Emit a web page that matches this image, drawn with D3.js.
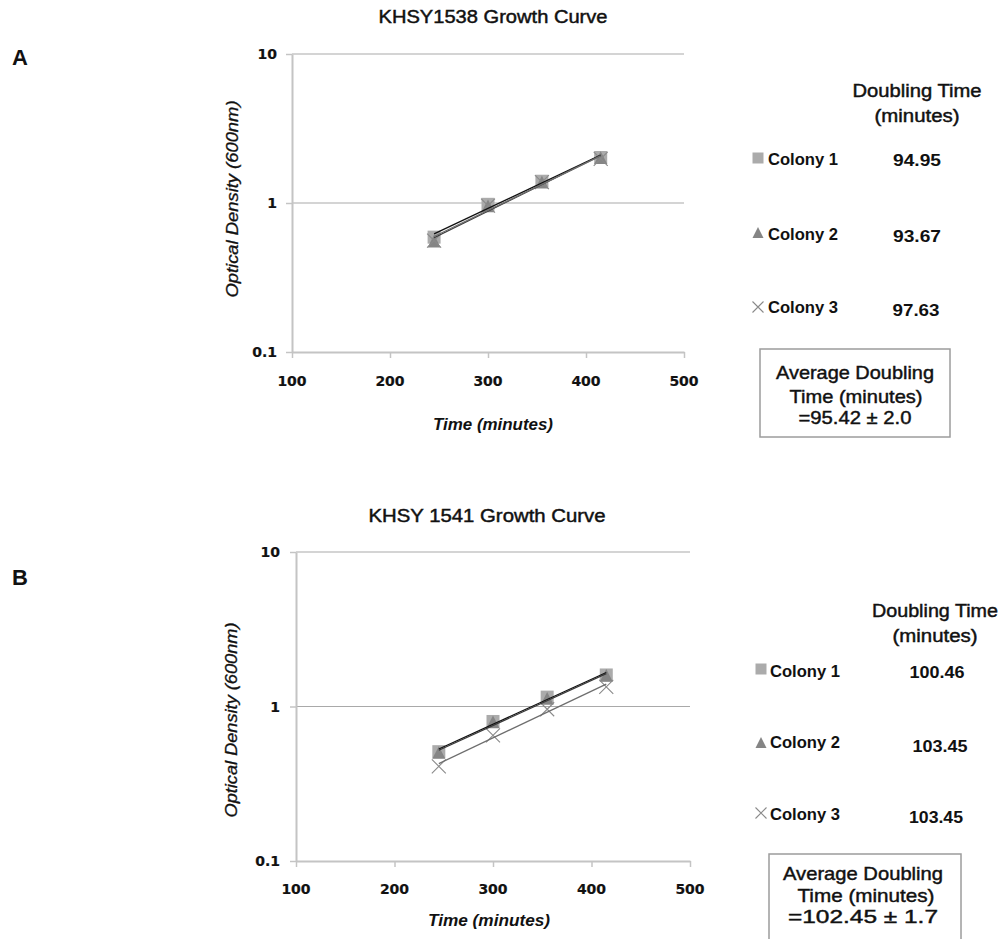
<!DOCTYPE html>
<html>
<head>
<meta charset="utf-8">
<script src="https://cdn.jsdelivr.net/npm/d3@7"></script>
<style>
  html, body { margin: 0; padding: 0; background: #fff; }
  svg { display: block; }
</style>
</head>
<body>
<svg id="chart" width="1005" height="939"></svg>
<script>
// ---------------- DATA ----------------
const timePoints = [245, 300, 355, 415];
const colonyNames = ["Colony 1", "Colony 2", "Colony 3"];

// Panel A (KHSY1538)
const titleA = "KHSY1538 Growth Curve";
const odA_colony1 = [0.59, 0.98, 1.40, 2.02];
const odA_colony2 = [0.55, 0.95, 1.37, 2.00];
const odA_colony3 = [0.56, 0.96, 1.38, 1.98];
const doublingA = ["94.95", "93.67", "97.63"];
const averageA = "=95.42 \u00B1 2.0";

// Panel B (KHSY 1541)
const titleB = "KHSY 1541 Growth Curve";
const odB_colony1 = [0.51, 0.80, 1.15, 1.60];
const odB_colony2 = [0.50, 0.79, 1.12, 1.58];
const odB_colony3 = [0.41, 0.65, 0.96, 1.34];
const doublingB = ["100.46", "103.45", "103.45"];
const averageB = "=102.45 \u00B1 1.7";

const xTicks = [100, 200, 300, 400, 500];
const yTicks = [0.1, 1, 10];
const yTickLabels = ["0.1", "1", "10"];
const xDomain = [100, 500];
const yDomain = [0.1, 10];
const xTitle = "Time (minutes)";
const yTitle = "Optical Density (600nm)";
const tableHeader = ["Doubling Time", "(minutes)"];
const boxLines = ["Average Doubling", "Time (minutes)"];

// ---------------- LAYOUT ----------------
const panels = [
  {
    letter: "A", letterX: 12, letterY: 65,
    title: titleA, titleX: 493, titleY: 23, titleLen: 229,
    plot: { left: 292, right: 684, top: 54, bottom: 352 },
    xLabelY: 386, xTitleY: 430, xTitleX: 493, xTitleLen: 120,
    yLabelX: 277, yTitleX: 238, yTitleY: 199, yTitleLen: 197,
    series: [odA_colony1, odA_colony2, odA_colony3],
    doubling: doublingA, average: averageA,
    headX: 917, headY: [97, 122], headLen: [129, 85],
    legX: 758, legTextX: 768, legY: [158, 233, 307], legTextY: [165, 240, 313],
    valX: [917, 917, 916], valY: [166, 242, 316], valLen: [48, 48, 47],
    box: { x: 760, y: 349, w: 190, h: 88 },
    boxX: [855, 856, 855], boxY: [379, 403, 424], boxLen: [158, 133, 113]
  },
  {
    letter: "B", letterX: 12, letterY: 585,
    title: titleB, titleX: 487, titleY: 522, titleLen: 237,
    plot: { left: 296, right: 690, top: 552, bottom: 861 },
    xLabelY: 894, xTitleY: 926, xTitleX: 489, xTitleLen: 122,
    yLabelX: 280, yTitleX: 237, yTitleY: 720, yTitleLen: 195,
    series: [odB_colony1, odB_colony2, odB_colony3],
    doubling: doublingB, average: averageB,
    headX: 935, headY: [617, 642], headLen: [126, 85],
    legX: 761, legTextX: 770, legY: [669, 743, 813], legTextY: [677, 748, 820],
    valX: [937, 940, 936], valY: [678, 752, 823], valLen: [55, 55, 54],
    box: { x: 769, y: 854, w: 192, h: 110 },
    boxX: [863, 866, 863], boxY: [880, 902, 923], boxLen: [160, 137, 150]
  }
];

const SANS = "'Liberation Sans', Arial, Helvetica, sans-serif";
const VERD = "'DejaVu Sans', Verdana, sans-serif";
const markerFill = ["#ababab", "#858585", "none"];
const trendColor = ["#111111", "#3a3a3a", "#6e6e6e"];

const svg = d3.select("#chart");

function txt(g, s, x, y, opt) {
  const fill = opt.fill || "#111";
  const t = g.append("text")
    .attr("x", x).attr("y", y)
    .attr("font-family", opt.family || SANS)
    .attr("font-size", opt.size || 16)
    .attr("font-weight", opt.weight || "normal")
    .attr("font-style", opt.style || "normal")
    .attr("text-anchor", opt.anchor || "start")
    .attr("fill", fill)
    .text(s);
  if (opt.heavy) t.attr("stroke", fill).attr("stroke-width", opt.heavy);
  if (opt.len) t.attr("textLength", opt.len).attr("lengthAdjust", "spacingAndGlyphs");
  if (opt.transform) t.attr("transform", opt.transform);
  return t;
}

function marker(g, type, cx, cy, s) {
  if (type === 0) {
    g.append("rect").attr("x", cx - s / 2).attr("y", cy - s / 2)
      .attr("width", s).attr("height", s).attr("fill", markerFill[0]);
  } else if (type === 1) {
    const h = s * 0.9;
    g.append("path")
      .attr("d", `M${cx},${cy - h / 2 - 1} L${cx + s / 2},${cy + h / 2} L${cx - s / 2},${cy + h / 2} Z`)
      .attr("fill", markerFill[1]);
  } else {
    const r = s / 2;
    g.append("path")
      .attr("d", `M${cx - r},${cy - r} L${cx + r},${cy + r} M${cx - r},${cy + r} L${cx + r},${cy - r}`)
      .attr("stroke", "#8a8a8a").attr("stroke-width", 1.1).attr("fill", "none");
  }
}

function expFit(xs, ys) {
  const n = xs.length;
  const ly = ys.map(Math.log);
  const mx = d3.mean(xs), my = d3.mean(ly);
  let num = 0, den = 0;
  for (let i = 0; i < n; i++) { num += (xs[i] - mx) * (ly[i] - my); den += (xs[i] - mx) ** 2; }
  const b = num / den, a = my - b * mx;
  return x => Math.exp(a + b * x);
}

panels.forEach(p => {
  const g = svg.append("g");
  const x = d3.scaleLinear().domain(xDomain).range([p.plot.left, p.plot.right]);
  const y = d3.scaleLog().domain(yDomain).range([p.plot.bottom, p.plot.top]);

  // letter
  txt(g, p.letter, p.letterX, p.letterY, { size: 22, weight: "bold", family: SANS });
  // title
  txt(g, p.title, p.titleX, p.titleY, { size: 18, anchor: "middle", len: p.titleLen, heavy: 0.45 });

  // gridlines (10 and 1)
  g.selectAll(".grid").data(yTicks.filter(v => v > yDomain[0])).enter()
    .append("line")
    .attr("x1", p.plot.left).attr("x2", p.plot.right)
    .attr("y1", d => y(d)).attr("y2", d => y(d))
    .attr("stroke", "#a9a9a9").attr("stroke-width", 1.2);

  // x axis
  const xAxis = g.append("g").attr("transform", `translate(0,${p.plot.bottom})`)
    .call(d3.axisBottom(x).tickValues(xTicks).tickSize(6).tickSizeOuter(0).tickFormat(""));
  xAxis.select(".domain").attr("stroke", "#c4c4c4").attr("stroke-width", 2);
  xAxis.selectAll(".tick line").attr("stroke", "#c4c4c4").attr("stroke-width", 1.5);
  // y axis
  const yAxis = g.append("g").attr("transform", `translate(${p.plot.left},0)`)
    .call(d3.axisLeft(y).tickValues(yTicks).tickSize(6).tickSizeOuter(0).tickFormat(""));
  yAxis.select(".domain").attr("stroke", "#c4c4c4").attr("stroke-width", 2);
  yAxis.selectAll(".tick line").attr("stroke", "#c4c4c4").attr("stroke-width", 1.5);

  // tick labels
  xTicks.forEach(v => txt(g, String(v), x(v), p.xLabelY, { size: 14, weight: "bold", family: VERD, anchor: "middle", heavy: 0.2 }));
  yTicks.forEach((v, i) => txt(g, yTickLabels[i], p.yLabelX, y(v) + 5, { size: 14, weight: "bold", family: VERD, anchor: "end", heavy: 0.2 }));

  // axis titles
  txt(g, xTitle, p.xTitleX, p.xTitleY, { size: 16, weight: "bold", style: "italic", anchor: "middle", len: p.xTitleLen });
  txt(g, yTitle, 0, 0, { size: 16, style: "italic", anchor: "middle", len: p.yTitleLen, heavy: 0.3,
    transform: `translate(${p.yTitleX},${p.yTitleY}) rotate(-90)` });

  // markers
  p.series.forEach((vals, si) => {
    const mg = g.append("g");
    vals.forEach((v, i) => marker(mg, si, x(timePoints[i]), y(v), si === 2 ? 14 : 13));
  });

  // exponential trendlines over data range
  p.series.forEach((vals, si) => {
    const f = expFit(timePoints, vals);
    const x0 = d3.min(timePoints), x1 = d3.max(timePoints);
    g.append("line")
      .attr("x1", x(x0)).attr("y1", y(f(x0)))
      .attr("x2", x(x1)).attr("y2", y(f(x1)))
      .attr("stroke", trendColor[si]).attr("stroke-width", 1.3);
  });

  // table header
  tableHeader.forEach((s, i) => txt(g, s, p.headX, p.headY[i], { size: 18, anchor: "middle", len: p.headLen[i], heavy: 0.45 }));

  // legend + values
  colonyNames.forEach((name, i) => {
    marker(g, i, p.legX, p.legY[i], 11);
    txt(g, name, p.legTextX, p.legTextY[i], { size: 16.5, weight: "bold", len: 70 });
    txt(g, p.doubling[i], p.valX[i], p.valY[i], { size: 17, weight: "bold", anchor: "middle", len: p.valLen[i] });
  });

  // average box
  g.append("rect").attr("x", p.box.x).attr("y", p.box.y).attr("width", p.box.w).attr("height", p.box.h)
    .attr("fill", "none").attr("stroke", "#9c9c9c").attr("stroke-width", 1.5);
  const lines = [boxLines[0], boxLines[1], p.average];
  lines.forEach((s, i) => txt(g, s, p.boxX[i], p.boxY[i], { size: 19, anchor: "middle", len: p.boxLen[i], heavy: 0.45 }));
});
</script>
</body>
</html>
